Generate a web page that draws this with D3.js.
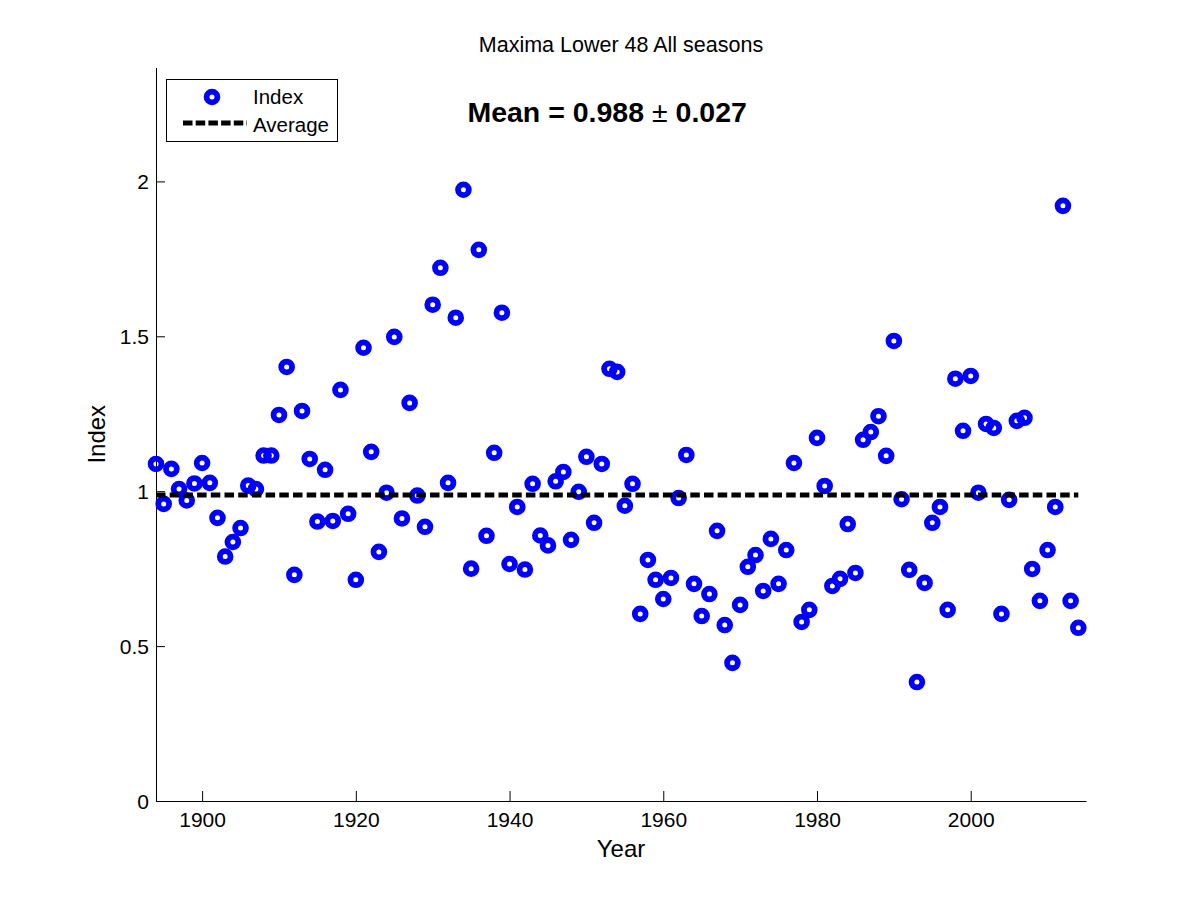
<!DOCTYPE html>
<html lang="en">
  <head>
    <meta charset="UTF-8" />
    <title>Maxima Lower 48 All seasons</title>
    <script src="https://cdn.jsdelivr.net/npm/d3@7"></script>
    <style>
      body { margin: 0; background: #fff; }
      svg { display: block; font-family: "Liberation Sans", Arial, sans-serif; }
    </style>
  </head>
  <body>
    <svg width="1200" height="900"></svg>
    <script>
      // data, one value per year 1894..2014
      const firstYear = 1894;
      const indexValues = [
        1.088, 0.959, 1.072, 1.007, 0.970, 1.025, 1.091, 1.027, 0.914, 0.789, // 1894-1903
        0.836, 0.881, 1.018, 1.007, 1.115, 1.115, 1.246, 1.401, 0.730, 1.259, // 1904-1913
        1.104, 0.902, 1.069, 0.904, 1.327, 0.927, 0.714, 1.463, 1.127, 0.804, // 1914-1923
        0.995, 1.498, 0.912, 1.285, 0.986, 0.885, 1.602, 1.721, 1.027, 1.560, // 1924-1933
        1.973, 0.750, 1.779, 0.856, 1.124, 1.576, 0.765, 0.949, 0.747, 1.024, // 1934-1943
        0.857, 0.825, 1.032, 1.062, 0.843, 0.998, 1.111, 0.898, 1.088, 1.395, // 1944-1953
        1.385, 0.953, 1.024, 0.604, 0.778, 0.714, 0.652, 0.720, 0.978, 1.117, // 1954-1963
        0.701, 0.597, 0.668, 0.872, 0.568, 0.446, 0.633, 0.756, 0.794, 0.678, // 1964-1973
        0.846, 0.701, 0.810, 1.091, 0.578, 0.617, 1.172, 1.017, 0.694, 0.717, // 1974-1983
        0.894, 0.736, 1.166, 1.191, 1.242, 1.114, 1.485, 0.974, 0.746, 0.384, // 1984-1993
        0.704, 0.898, 0.949, 0.617, 1.363, 1.195, 1.372, 0.995, 1.217, 1.204, // 1994-2003
        0.604, 0.972, 1.227, 1.237, 0.749, 0.646, 0.810, 0.949, 1.921, 0.646, // 2004-2013
        0.559                                                                // 2014
      ];
      const years = indexValues.map((v, i) => firstYear + i);
      const meanValue = 0.988;
      const meanError = 0.027;
      const xTicks = [1900, 1920, 1940, 1960, 1980, 2000];
      const yTicks = [0, 0.5, 1, 1.5, 2];
      const legendLabels = ["Index", "Average"];

      const points = years.map((yr, i) => ({ year: yr, value: indexValues[i] }));

      // matlab default axes box
      const plotLeft = 156, plotRight = 1086, plotTop = 67.5, plotBottom = 801;
      const blue = "#0000ff";

      const x = d3.scaleLinear()
        .domain([d3.min(years), d3.max(years) + 1])
        .range([plotLeft, plotRight]);
      const y = d3.scaleLinear()
        .domain([0, d3.max(indexValues) * 1.2])
        .range([plotBottom, plotTop]);

      const svg = d3.select("svg");

      // axes: bottom + left only, ticks pointing inwards
      const xAxis = svg.append("g")
        .attr("transform", `translate(0,${plotBottom})`)
        .call(d3.axisBottom(x).tickValues(xTicks).tickFormat(d3.format("d"))
          .tickSizeInner(-10).tickSizeOuter(0).tickPadding(0));
      xAxis.select(".domain").attr("stroke", "#000");
      xAxis.selectAll(".tick line").attr("stroke", "#000");
      xAxis.selectAll(".tick text")
        .attr("y", 26).attr("dy", 0)
        .attr("font-size", 21).attr("fill", "#000");

      const yAxis = svg.append("g")
        .attr("transform", `translate(${plotLeft},0)`)
        .call(d3.axisLeft(y).tickValues(yTicks).tickFormat(d3.format("~g"))
          .tickSizeInner(-9).tickSizeOuter(0).tickPadding(0));
      yAxis.select(".domain").attr("stroke", "#000");
      yAxis.selectAll(".tick line").attr("stroke", "#000");
      yAxis.selectAll(".tick text")
        .attr("x", -7).attr("dy", "0.36em")
        .attr("font-size", 21).attr("fill", "#000");

      // points: open blue rings
      svg.append("g")
        .selectAll("circle")
        .data(points)
        .join("circle")
        .attr("cx", d => x(d.year))
        .attr("cy", d => y(d.value))
        .attr("r", 5.4)
        .attr("fill", "none")
        .attr("stroke", blue)
        .attr("stroke-width", 5.8);

      // dashed average line, drawn after the points
      svg.append("line")
        .attr("x1", x(d3.min(years)))
        .attr("x2", x(d3.max(years)))
        .attr("y1", y(meanValue))
        .attr("y2", y(meanValue))
        .attr("stroke", "#000")
        .attr("stroke-width", 5)
        .attr("stroke-dasharray", "9.5,4.2");

      // title
      svg.append("text")
        .attr("x", (plotLeft + plotRight) / 2)
        .attr("y", 52)
        .attr("text-anchor", "middle")
        .attr("font-size", 21.5)
        .text("Maxima Lower 48 All seasons");

      // mean annotation
      const meanText = svg.append("text")
        .attr("x", x(1952.7))
        .attr("y", y(2.192))
        .attr("text-anchor", "middle")
        .attr("font-size", 28.5)
        .attr("font-weight", "bold");
      meanText.append("tspan").text(`Mean = ${meanValue.toFixed(3)} `);
      meanText.append("tspan").attr("font-weight", "normal").text("\u00b1");
      meanText.append("tspan").text(` ${meanError.toFixed(3)}`);

      // axis labels
      svg.append("text")
        .attr("x", (plotLeft + plotRight) / 2)
        .attr("y", 857)
        .attr("text-anchor", "middle")
        .attr("font-size", 24)
        .text("Year");
      svg.append("text")
        .attr("transform", `translate(105,${(plotTop + plotBottom) / 2}) rotate(-90)`)
        .attr("text-anchor", "middle")
        .attr("font-size", 24)
        .text("Index");

      // legend
      const legend = svg.append("g");
      legend.append("rect")
        .attr("x", 166.5).attr("y", 79.5)
        .attr("width", 171).attr("height", 62)
        .attr("fill", "#fff").attr("stroke", "#000");
      legend.append("circle")
        .attr("cx", 212).attr("cy", 97)
        .attr("r", 5.4)
        .attr("fill", "none")
        .attr("stroke", blue)
        .attr("stroke-width", 5.8);
      legend.append("line")
        .attr("x1", 183).attr("x2", 247)
        .attr("y1", 123).attr("y2", 123)
        .attr("stroke", "#000")
        .attr("stroke-width", 5)
        .attr("stroke-dasharray", "9.5,3.2");
      legend.selectAll("text.lab")
        .data(legendLabels)
        .join("text")
        .attr("class", "lab")
        .attr("x", 253)
        .attr("y", (d, i) => 104 + i * 28)
        .attr("font-size", 20.5)
        .text(d => d);
    </script>
  </body>
</html>
